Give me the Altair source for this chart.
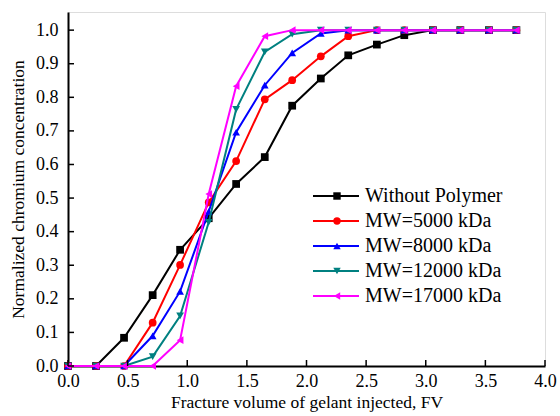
import altair as alt
import pandas as pd

fv = [0.0, 0.235, 0.47, 0.71, 0.94, 1.18, 1.41, 1.65, 1.88, 2.12, 2.35, 2.59, 2.82, 3.06, 3.29, 3.53, 3.76]
without_polymer = [0, 0, 0.084, 0.211, 0.346, 0.44, 0.542, 0.622, 0.775, 0.856, 0.925, 0.957, 0.985, 1.0, 1.0, 1.0, 1.0]
mw5000 = [0, 0, 0, 0.129, 0.301, 0.487, 0.61, 0.794, 0.851, 0.922, 0.982, 1.0, 1.0, 1.0, 1.0, 1.0, 1.0]
mw8000 = [0, 0, 0, 0.09, 0.222, 0.46, 0.696, 0.836, 0.932, 0.99, 1.0, 1.0, 1.0, 1.0, 1.0, 1.0, 1.0]
mw12000 = [0, 0, 0, 0.028, 0.149, 0.428, 0.764, 0.935, 0.988, 1.0, 1.0, 1.0, 1.0, 1.0, 1.0, 1.0, 1.0]
mw17000 = [0, 0, 0, 0, 0.077, 0.512, 0.833, 0.982, 1.0, 1.0, 1.0, 1.0, 1.0, 1.0, 1.0, 1.0, 1.0]

names = ["Without Polymer", "MW=5000 kDa", "MW=8000 kDa", "MW=12000 kDa", "MW=17000 kDa"]
colors = ["#000000", "#FF0000", "#0000FF", "#008080", "#FF00FF"]
shapes = ["square", "circle", "triangle-up", "triangle-down", "triangle-left"]
series = [without_polymer, mw5000, mw8000, mw12000, mw17000]

x_ticks = [0.0, 0.5, 1.0, 1.5, 2.0, 2.5, 3.0, 3.5, 4.0]
y_ticks = [0.0, 0.1, 0.2, 0.3, 0.4, 0.5, 0.6, 0.7, 0.8, 0.9, 1.0]

W, H = 477, 354
FONT = "Liberation Serif, Times New Roman, serif"

xscale = alt.Scale(domain=[0, 4.0], nice=False, zero=False)
yscale = alt.Scale(domain=[0, 1.054], nice=False, zero=False)

X_TITLE = "Fracture volume of gelant injected, FV"
Y_TITLE = "Normalized chromium concentration"
x_axis = alt.Axis(values=x_ticks, format=".1f",
                  tickSize=0, labelPadding=6, grid=False, domainColor="black", domainWidth=2,
                  labelFont=FONT, titleFont=FONT, labelFontSize=18, titleFontSize=17.5,
                  labelColor="black", titleColor="black", titleFontWeight="normal",
                  titlePadding=3, labelFlush=False, labelOverlap=False)
y_axis = alt.Axis(values=y_ticks, format=".1f",
                  tickSize=0, labelPadding=10, grid=False, domainColor="black", domainWidth=2,
                  labelFont=FONT, titleFont=FONT, labelFontSize=18, titleFontSize=17.5,
                  labelColor="black", titleColor="black", titleFontWeight="normal",
                  titlePadding=8, labelOverlap=False, labelFlush=False)

layers = []
for name, vals, col, shp in zip(names, series, colors, shapes):
    df = pd.DataFrame({"fv": fv, "c": vals})
    base = alt.Chart(df).encode(
        x=alt.X("fv:Q", scale=xscale, axis=x_axis, title=X_TITLE),
        y=alt.Y("c:Q", scale=yscale, axis=y_axis, title=Y_TITLE),
    )
    layers.append(base.mark_line(color=col, strokeWidth=2))
    layers.append(base.mark_point(color=col, shape=shp, filled=True, size=60, opacity=1))

# inward ticks
xt = pd.DataFrame({"t": x_ticks})
layers.append(alt.Chart(xt).mark_rule(color="black", strokeWidth=1.5).encode(
    x=alt.X("t:Q", scale=xscale, axis=x_axis, title=X_TITLE), y=alt.value(H), y2=alt.value(H - 6)))
yt = pd.DataFrame({"t": y_ticks})
layers.append(alt.Chart(yt).mark_rule(color="black", strokeWidth=1.5).encode(
    y=alt.Y("t:Q", scale=yscale, axis=y_axis, title=Y_TITLE), x=alt.value(0), x2=alt.value(6)))

main = alt.layer(*layers)

# manual legend
leg = pd.DataFrame({"name": names, "color": colors, "shape": shapes})
ly = alt.Y("name:N", sort=names, scale=alt.Scale(type="point", range=[184, 284], padding=0), axis=None)
leg_line = alt.Chart(leg).mark_rule(strokeWidth=2).encode(
    y=ly, x=alt.value(245), x2=alt.value(291),
    color=alt.Color("color:N", scale=None))
leg_pt = alt.Chart(leg).mark_point(filled=True, size=55, opacity=1).encode(
    y=ly, x=alt.value(269),
    color=alt.Color("color:N", scale=None),
    shape=alt.Shape("shape:N", scale=None))
leg_txt = alt.Chart(leg).mark_text(align="left", baseline="middle", font=FONT, fontSize=20, color="black").encode(
    y=ly, x=alt.value(297), text="name:N")
legend = alt.layer(leg_line, leg_pt, leg_txt)

chart = alt.layer(main, legend).resolve_scale(y="independent").properties(
    width=W, height=H,
    padding={"left": 68, "top": 12, "right": 15, "bottom": 50},
    autosize=alt.AutoSizeParams(type="none"),
).configure_view(stroke="black", strokeWidth=2).configure(background="white")

chart.save("out.html", embed_options={"renderer": "svg", "actions": False})
